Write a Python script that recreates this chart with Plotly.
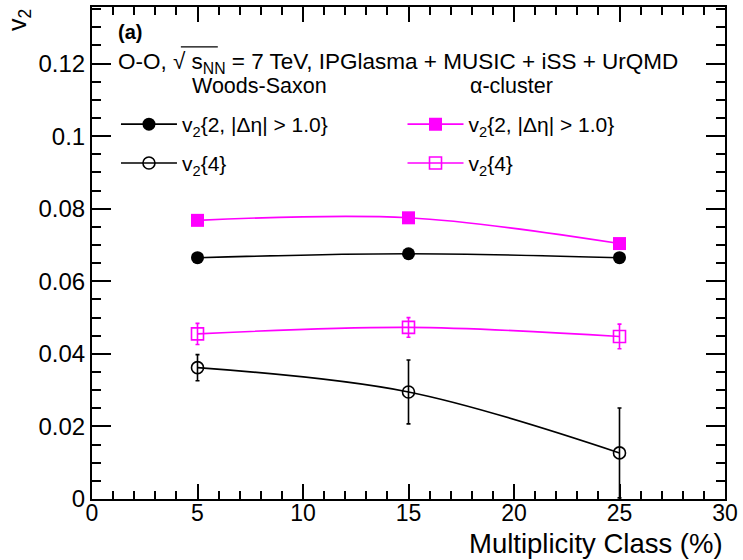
import plotly.graph_objects as go

# Multiplicity classes (%)
mult_class = [5, 15, 25]

# Woods-Saxon
ws_v22 = [0.0665, 0.0676, 0.0665]
ws_v24 = [0.0362, 0.0295, 0.0127]
ws_v24_err = [0.0036, 0.0088, 0.0124]

# alpha-cluster
ac_v22 = [0.0768, 0.0775, 0.0704]
ac_v24 = [0.0455, 0.0473, 0.0448]
ac_v24_err = [0.0029, 0.0027, 0.0034]

x_ticks = [0, 5, 10, 15, 20, 25, 30]
y_ticks = [0, 0.02, 0.04, 0.06, 0.08, 0.1, 0.12]
y_tick_text = ["0", "0.02", "0.04", "0.06", "0.08", "0.1", "0.12"]

MAGENTA = "#ff00ff"
FONT = "Liberation Sans, Arial, Helvetica, sans-serif"

W, H = 743, 560
ML, MR, MT, MB = 92, 17, 5, 61
PW, PH = W - ML - MR, H - MT - MB


def px(xpix):
    return (xpix - ML) / PW


def py(ypix):
    return (H - MB - ypix) / PH


fig = go.Figure()

fig.add_trace(go.Scatter(
    x=mult_class, y=ws_v22, mode="lines+markers",
    line=dict(color="black", width=1.6, shape="spline"),
    marker=dict(symbol="circle", size=13, color="black"),
    name="v<sub>2</sub>{2, |Δη| > 1.0}", legend="legend2",
))
fig.add_trace(go.Scatter(
    x=mult_class, y=ws_v24, mode="lines+markers",
    line=dict(color="black", width=1.6, shape="spline"),
    marker=dict(symbol="circle-open", size=12, color="black", line=dict(width=1.6)),
    error_y=dict(type="data", array=ws_v24_err, color="black", thickness=1.6, width=2),
    name="v<sub>2</sub>{4}", legend="legend3",
))
fig.add_trace(go.Scatter(
    x=mult_class, y=ac_v22, mode="lines+markers",
    line=dict(color=MAGENTA, width=1.6, shape="spline"),
    marker=dict(symbol="square", size=13, color=MAGENTA),
    name="v<sub>2</sub>{2, |Δη| > 1.0}", legend="legend4",
))
fig.add_trace(go.Scatter(
    x=mult_class, y=ac_v24, mode="lines+markers",
    line=dict(color=MAGENTA, width=1.6, shape="spline"),
    marker=dict(symbol="square-open", size=12, color=MAGENTA, line=dict(width=1.6)),
    error_y=dict(type="data", array=ac_v24_err, color=MAGENTA, thickness=1.6, width=2),
    name="v<sub>2</sub>{4}", legend="legend5",
))

leg_common = dict(bgcolor="rgba(0,0,0,0)", borderwidth=0, xanchor="left",
                  yanchor="middle", font=dict(family=FONT, size=21, color="black"),
                  itemwidth=56)

fig.update_layout(
    width=W, height=H,
    margin=dict(l=ML, r=MR, t=MT, b=MB),
    paper_bgcolor="white", plot_bgcolor="white",
    font=dict(family=FONT, color="black"),
    showlegend=True,
    legend2=dict(x=px(116), y=py(123), **leg_common),
    legend3=dict(x=px(116), y=py(162), **leg_common),
    legend4=dict(x=px(403), y=py(123), **leg_common),
    legend5=dict(x=px(403), y=py(162), **leg_common),
    xaxis=dict(
        range=[0, 30], tickvals=x_ticks, ticks="inside", ticklen=15,
        tickwidth=1.5, tickcolor="black", showline=True, linecolor="black",
        linewidth=2, mirror="allticks", showgrid=False, zeroline=False,
        tickfont=dict(family=FONT, size=23, color="black"),
        ticklabelstandoff=-8,
        minor=dict(ticks="inside", dtick=1, ticklen=8, tickwidth=1.5,
                   tickcolor="black", showgrid=False),
    ),
    yaxis=dict(
        range=[0, 0.1356], tickvals=y_ticks, ticktext=y_tick_text,
        ticks="inside", ticklen=19, tickwidth=1.5, tickcolor="black",
        showline=True, linecolor="black", linewidth=2, mirror="allticks",
        showgrid=False, zeroline=False,
        tickfont=dict(family=FONT, size=24, color="black"),
        minor=dict(ticks="inside", dtick=0.005, ticklen=9, tickwidth=1.5,
                   tickcolor="black", showgrid=False),
    ),
)

hdr_font = dict(family=FONT, size=22.5, color="black")
lbl_font = dict(family=FONT, size=21.5, color="black")
fig.add_annotation(text="<b>(a)</b>", x=px(116), y=py(30), xref="paper", yref="paper",
                   xanchor="left", yanchor="middle", showarrow=False,
                   font=dict(family=FONT, size=20, color="black"))
fig.add_annotation(
    text="O-O, √ s<sub>NN</sub> = 7 TeV, IPGlasma + MUSIC + iSS + UrQMD",
    x=px(116), y=py(61), xref="paper", yref="paper", xanchor="left",
    yanchor="middle", showarrow=False, font=hdr_font)
# radical overline across s_NN
fig.add_shape(type="line", xref="paper", yref="paper",
              x0=px(181), x1=px(218), y0=py(45), y1=py(45),
              line=dict(color="black", width=1.2))
fig.add_annotation(text="Woods-Saxon", x=px(190), y=py(84), xref="paper", yref="paper",
                   xanchor="left", yanchor="middle", showarrow=False, font=lbl_font)
fig.add_annotation(text="α-cluster", x=px(469), y=py(84), xref="paper", yref="paper",
                   xanchor="left", yanchor="middle", showarrow=False, font=lbl_font)

# axis titles
fig.add_annotation(text="v<sub>2</sub>", x=px(19), y=py(18), xref="paper", yref="paper",
                   xanchor="center", yanchor="middle", textangle=-90, showarrow=False,
                   font=dict(family=FONT, size=25, color="black"))
fig.add_annotation(text="Multiplicity Class (%)", x=1.0, y=py(544), xref="paper",
                   yref="paper", xanchor="right", yanchor="middle", showarrow=False,
                   font=dict(family=FONT, size=27.5, color="black"))

fig.write_html("out.html")
